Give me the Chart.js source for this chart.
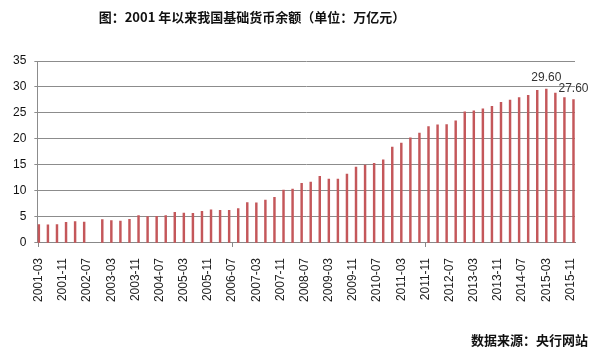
<!DOCTYPE html>
<html>
<head>
<meta charset="utf-8">
<script src="https://cdn.jsdelivr.net/npm/chart.js@4.4.0/dist/chart.umd.min.js"></script>
<style>
    html, body { margin: 0; padding: 0; background: #fff; }
    #wrap { position: relative; width: 600px; height: 353px; }
    #title {
        position: absolute; left: 0; top: 8px; width: 504px;
        text-align: center; font: bold 13px "Noto Sans CJK SC", sans-serif;
        line-height: 18px; color: #111;
    }
    #source {
        position: absolute; right: 12px; top: 331px;
        font: bold 13px "Noto Sans CJK SC", sans-serif;
        line-height: 18px; color: #111;
    }
</style>
</head>
<body>
<div id="wrap">
    <canvas id="chartCanvas" width="600" height="353"></canvas>
    <div id="title">图：2001 年以来我国基础货币余额（单位：万亿元）</div>
    <div id="source">数据来源：央行网站</div>
</div>
<script>
// 季度末基础货币余额（万亿元），2001-03 ~ 2015-12，2002-09 缺失
const years = [2001, 2002, 2003, 2004, 2005, 2006, 2007, 2008, 2009, 2010, 2011, 2012, 2013, 2014, 2015];
const quarterMonths = ['03', '06', '09', '12'];
const baseMoney = [
    3.52, 3.50, 3.55, 3.97,
    4.10, 4.04, null, 4.49,
    4.30, 4.20, 4.55, 5.26,
    5.06, 5.10, 5.26, 5.90,
    5.77, 5.70, 6.09, 6.35,
    6.28, 6.28, 6.60, 7.76,
    7.70, 8.27, 8.78, 10.19,
    10.38, 11.47, 11.73, 12.82,
    12.30, 12.30, 13.27, 14.60,
    15.00, 15.30, 16.00, 18.46,
    19.20, 20.20, 21.15, 22.40,
    22.70, 22.76, 23.50, 25.20,
    25.40, 25.80, 26.30, 27.05,
    27.50, 27.95, 28.40, 29.36,
    29.60, 28.85, 27.95, 27.60,
];
const labeledPoints = ['2015-03', '2015-12'];
const yTicks = [0, 5, 10, 15, 20, 25, 30, 35];
const labelEvery = 8;

// 月度类目轴：2001-03 到 2015-12
const months = [];
for (let y = years[0]; y <= years[years.length - 1]; y++) {
    for (let m = (y === years[0] ? 3 : 1); m <= 12; m++) {
        months.push(y + '-' + String(m).padStart(2, '0'));
    }
}
const quarterLabels = [];
years.forEach(y => quarterMonths.forEach(m => quarterLabels.push(y + '-' + m)));
const monthlyData = months.map(() => null);
quarterLabels.forEach((q, i) => {
    const idx = months.indexOf(q);
    if (idx >= 0) monthlyData[idx] = baseMoney[i];
});

const valueLabels = {
    id: 'valueLabels',
    afterDatasetsDraw(chart) {
        const ctx = chart.ctx;
        const meta = chart.getDatasetMeta(0);
        ctx.save();
        ctx.font = '12px "Liberation Sans", Arial, sans-serif';
        ctx.fillStyle = '#333';
        ctx.textAlign = 'center';
        ctx.textBaseline = 'middle';
        labeledPoints.forEach(lbl => {
            const i = months.indexOf(lbl);
            const el = meta.data[i];
            ctx.fillText(monthlyData[i].toFixed(2), el.x, el.y - 11);
        });
        ctx.restore();
    },
};

const cha = document.getElementById('chartCanvas').getContext('2d');
new Chart(cha, {
    type: 'bar',
    data: {
        labels: months,
        datasets: [
            {
                data: monthlyData,
                backgroundColor: '#c4575a',
                barThickness: 1.8,
            },
        ],
    },
    options: {
        responsive: false,
        animation: false,
        layout: {
            padding: { left: 5, right: 25, top: 61, bottom: 40 },
        },
        plugins: {
            legend: { display: false },
            tooltip: { enabled: false },
        },
        scales: {
            x: {
                grid: {
                    offset: false,
                    drawOnChartArea: false,
                    tickLength: 4,
                    tickColor: c => (c.index % labelEvery === 0 ? '#888' : 'rgba(0,0,0,0)'),
                },
                border: { display: true, color: '#888' },
                ticks: {
                    autoSkip: false,
                    minRotation: 90,
                    maxRotation: 90,
                    padding: 11,
                    color: '#222',
                    font: { size: 12, family: '"Liberation Sans", Arial, sans-serif' },
                    callback: function (value, index) {
                        return index % labelEvery === 0 ? this.getLabelForValue(value) : null;
                    },
                },
            },
            y: {
                min: yTicks[0],
                max: yTicks[yTicks.length - 1],
                afterBuildTicks: axis => {
                    axis.ticks = yTicks.map(v => ({ value: v }));
                },
                grid: {
                    color: '#8c8c8c',
                    tickLength: 3,
                },
                border: { display: true, color: '#8c8c8c' },
                ticks: {
                    padding: 8,
                    color: '#111',
                    font: { size: 12, family: '"Liberation Sans", Arial, sans-serif' },
                },
            },
        },
    },
    plugins: [valueLabels],
});
</script>
</body>
</html>
